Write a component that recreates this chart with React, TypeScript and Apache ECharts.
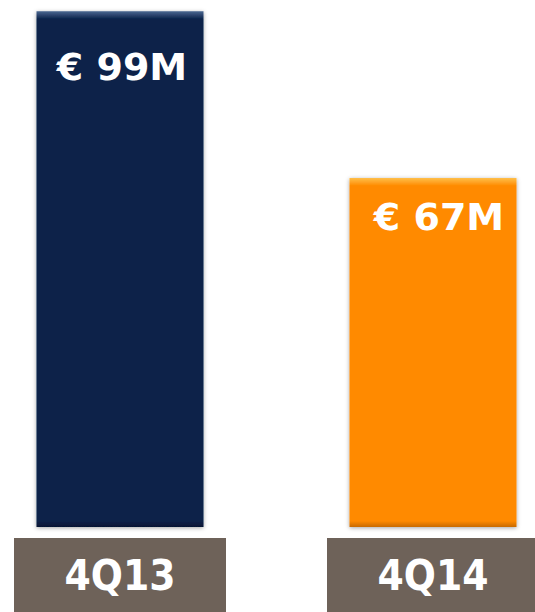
import React, { useEffect, useRef } from "react";
import * as echarts from "echarts";

const categories = ["4Q13", "4Q14"];
const values = [99, 67];
const valueLabels = ["€ 99M", "€ 67M"];
const barColors = ["#0b2249", "#ff8a00"];
const topColors = ["#4a6690", "#ffc04a"];
const bottomColors = ["#061634", "#c86a00"];
const labelOffsets = [[2, -1], [6, -1]];
const labelDistances = [38, 21];

export default function App() {
  const ref = useRef<HTMLDivElement>(null);
  useEffect(() => {
    if (!ref.current) return;
    const chart = echarts.init(ref.current, null, { renderer: "svg" });
    const data = values.map((v, i) => ({
      value: v,
      itemStyle: {
        color: new echarts.graphic.LinearGradient(0, 0, 0, 1, [
          { offset: 0, color: topColors[i] },
          { offset: 8 / (v * 5.2), color: barColors[i] },
          { offset: 1 - 6 / (v * 5.2), color: barColors[i] },
          { offset: 1, color: bottomColors[i] },
        ]),
        shadowColor: "rgba(0,0,0,0.35)",
        shadowBlur: 4,
        shadowOffsetY: 1,
      },
      label: {
        offset: labelOffsets[i],
        distance: labelDistances[i],
        formatter: valueLabels[i],
      },
    }));
    chart.setOption({
      animation: false,
      grid: {
        left: 120,
        right: 102,
        top: 6,
        bottom: 85,
        containLabel: false,
        outerBoundsMode: "none",
      },
      xAxis: {
        type: "category",
        data: categories,
        boundaryGap: false,
        axisLine: { show: false },
        axisTick: { show: false },
        axisLabel: {
          margin: 11,
          color: "#ffffff",
          fontFamily: "DejaVu Sans Condensed",
          fontWeight: "bold",
          fontSize: 42,
          backgroundColor: "#6e6259",
          width: 212,
          height: 74,
          lineHeight: 74,
          align: "center",
          verticalAlign: "top",
        },
      },
      yAxis: {
        type: "value",
        min: 0,
        max: 100,
        show: false,
        splitLine: { show: false },
      },
      series: [
        {
          type: "bar",
          data,
          barWidth: 167,
          label: {
            show: true,
            position: "insideTop",
            color: "#ffffff",
            fontFamily: "DejaVu Sans",
            fontWeight: "bold",
            fontSize: 38,
          },
        },
      ],
    });
    return () => chart.dispose();
  }, []);
  return (
    <div
      ref={ref}
      style={{ width: 535, height: 612, position: "absolute", left: 0, top: 0 }}
    />
  );
}
